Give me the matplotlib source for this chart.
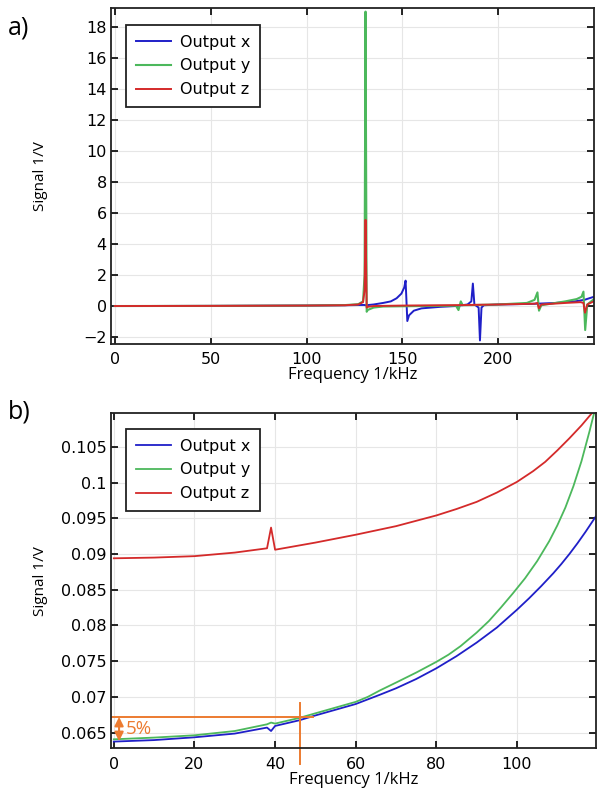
import matplotlib
matplotlib.use('Agg')
import matplotlib.pyplot as plt
from matplotlib.ticker import FuncFormatter

# colours (COMSOL-like)
BLUE = '#1f1fc8'
GREEN = '#4cb85c'
RED = '#d42a2a'
ORANGE = '#ec7b30'

# ---- panel a) full sweep ----
A_FX = [0, 50, 100, 120, 130, 131, 135, 140, 144, 147, 149.5, 151, 151.7,
        152.6, 153.5, 156, 160, 170, 178, 184, 186, 186.8, 187.6, 188.5,
        189.8, 190.5, 191.3, 192.5, 200, 210, 220, 230, 240, 245, 249.5]
A_X = [0.0, 0.01, 0.03, 0.05, 0.07, 0.05, 0.1, 0.2, 0.3, 0.5, 0.8, 1.2, 1.64,
       -0.97, -0.6, -0.3, -0.15, -0.05, 0.0, 0.1, 0.3, 1.45, 0.1, 0.02,
       -0.1, -2.22, -0.1, 0.05, 0.1, 0.12, 0.15, 0.2, 0.3, 0.4, 0.58]

A_FY = [0, 50, 100, 120, 127, 129.5, 130.3, 130.8, 131.4, 132, 135, 140, 160,
        178, 179.3, 180.5, 181.5, 200, 215, 219, 220.5, 221.3, 222.5, 235,
        241, 243.5, 244.5, 245.4, 246.5, 249.5]
A_Y = [0.0, 0.01, 0.03, 0.06, 0.12, 0.3, 2.0, 19.0, -0.37, -0.25, -0.1, -0.03,
       0.0, 0.02, -0.26, 0.3, 0.05, 0.1, 0.2, 0.4, 0.88, -0.3, 0.05, 0.3,
       0.45, 0.6, 0.93, -1.55, 0.1, 0.4]

A_FZ = [0, 50, 100, 120, 127, 129.5, 130.3, 130.8, 131.4, 132, 135, 150, 180,
        200, 219, 220.5, 221.2, 222.5, 235, 243, 244.5, 245.3, 246.5, 249.5]
A_Z = [0.0, 0.01, 0.03, 0.05, 0.1, 0.25, 1.0, 5.56, -0.1, -0.05, 0.0, 0.03,
       0.06, 0.1, 0.15, 0.2, -0.15, 0.1, 0.2, 0.25, 0.2, -0.43, 0.1, 0.28]

# ---- panel b) zoom on low frequencies ----
B_FX = [0, 10, 20, 30, 38, 39, 40, 46, 50, 60, 66, 70, 75, 80, 85, 90, 95,
        100, 103, 106, 109, 111, 113, 115, 117, 119.6]
B_X = [0.06374, 0.06395, 0.06434, 0.06486, 0.0657, 0.06522, 0.06593, 0.06672,
       0.0674, 0.0690, 0.0703, 0.0712, 0.0725, 0.0740, 0.0757, 0.0776, 0.0797,
       0.0822, 0.0838, 0.0855, 0.0873, 0.0886, 0.0900, 0.0915, 0.0931, 0.0953]

B_FY = [0, 10, 20, 30, 38, 39, 40, 46, 50, 60, 63, 66, 70, 75, 80, 83, 86,
        90, 93, 96, 99, 102, 105, 108, 110, 112, 114, 116, 118, 119.6]
B_Y = [0.06406, 0.0643, 0.06462, 0.06522, 0.06616, 0.0664, 0.06626, 0.06705,
       0.0677, 0.0693, 0.0700, 0.0709, 0.0720, 0.0734, 0.0749, 0.0759, 0.0771,
       0.0790, 0.0806, 0.0825, 0.0845, 0.0866, 0.0890, 0.0918, 0.0940, 0.0965,
       0.0995, 0.1030, 0.1072, 0.1108]

B_FZ = [0, 10, 20, 30, 38, 39, 40, 50, 60, 70, 80, 85, 86, 90, 95, 100, 104,
        107, 110, 113, 116, 119.6]
B_Z = [0.0894, 0.0895, 0.0897, 0.0902, 0.0908, 0.0937, 0.0906, 0.0916, 0.0927,
       0.0939, 0.0954, 0.0963, 0.0965, 0.0973, 0.0986, 0.1001, 0.1016, 0.1029,
       0.1045, 0.1062, 0.1080, 0.1104]

# 5 % marker in panel b
MARK_F = 46.2
MARK_LEVEL = 0.0672
BASE_LEVEL = 0.0638

B_YTICKS = [0.065, 0.07, 0.075, 0.08, 0.085, 0.09, 0.095, 0.1, 0.105]

LABEL_FONT = ['Open Sans', 'DejaVu Sans']


def style_axes(ax):
    ax.grid(True, color='#e6e6e6', linewidth=0.8)
    ax.set_axisbelow(True)
    ax.tick_params(direction='in', top=True, right=True, length=5,
                   width=1.2, labelsize=11.5, pad=3)
    ax.tick_params(axis='x', pad=6)
    for sp in ax.spines.values():
        sp.set_linewidth(1.3)
        sp.set_color('#222222')
    ax.set_xlabel('Frequency 1/kHz', fontsize=12, family=LABEL_FONT,
                  labelpad=0)
    ax.set_ylabel('Signal 1/V', fontsize=11, family=LABEL_FONT)


def add_legend(ax, top):
    leg = ax.legend(loc='upper left', bbox_to_anchor=(0.031, top),
                    borderaxespad=0, fontsize=11.5, fancybox=False,
                    framealpha=1, edgecolor='#222222', handlelength=2.2,
                    borderpad=0.6, labelspacing=0.55, handletextpad=0.6)
    leg.get_frame().set_linewidth(1.3)


fig = plt.figure(figsize=(5.97, 7.91), dpi=100)
W, H = 597.0, 791.0

# panel a
ax1 = fig.add_axes([111 / W, 1 - 344 / H, (594 - 111) / W, (344 - 8.5) / H])
ax1.plot(A_FX, A_X, color=BLUE, lw=1.4, label='Output x')
ax1.plot(A_FY, A_Y, color=GREEN, lw=1.5, label='Output y')
ax1.plot(A_FZ, A_Z, color=RED, lw=1.4, label='Output z')
ax1.set_xlim(-2, 250)
ax1.set_ylim(-2.45, 19.2)
ax1.set_xticks([0, 50, 100, 150, 200])
ax1.set_yticks(range(-2, 19, 2))
style_axes(ax1)
ax1.yaxis.set_label_coords(-0.13, 0.5)
add_legend(ax1, (344 - 25) / (344 - 8.5))

# panel b
ax2 = fig.add_axes([111 / W, 1 - 748.3 / H, (596 - 111) / W, (748.3 - 413.3) / H])
ax2.plot(B_FX, B_X, color=BLUE, lw=1.3, label='Output x')
ax2.plot(B_FY, B_Y, color=GREEN, lw=1.3, label='Output y')
ax2.plot(B_FZ, B_Z, color=RED, lw=1.3, label='Output z')
ax2.set_xlim(-0.7, 119.6)
ax2.set_ylim(0.0628, 0.1097)
ax2.set_xticks([0, 20, 40, 60, 80, 100])
ax2.set_yticks(B_YTICKS)
ax2.yaxis.set_major_formatter(FuncFormatter(lambda v, p: f'{v:g}'))
style_axes(ax2)
ax2.yaxis.set_label_coords(-0.13, 0.5)
add_legend(ax2, (748.3 - 429) / (748.3 - 413.3))

# 5 % annotation
ax2.plot([-0.7, 49.5], [MARK_LEVEL, MARK_LEVEL], color=ORANGE, lw=1.4)
ax2.plot([MARK_F, MARK_F], [0.06915, 0.0606], color=ORANGE, lw=1.4,
         clip_on=False)
ax2.annotate('', xy=(1.3, BASE_LEVEL), xytext=(1.3, MARK_LEVEL),
             arrowprops=dict(arrowstyle='<|-|>', color=ORANGE, lw=1.5,
                             mutation_scale=13, shrinkA=0, shrinkB=0))
ax2.text(2.9, 0.06555, '5%', color=ORANGE, fontsize=13.5, family=LABEL_FONT,
         va='center', ha='left')

fig.text(8 / W, 1 - 28 / H, 'a)', fontsize=18, family=LABEL_FONT, va='center')
fig.text(8 / W, 1 - 412 / H, 'b)', fontsize=18, family=LABEL_FONT, va='center')

fig.savefig('out.png', dpi=100)
